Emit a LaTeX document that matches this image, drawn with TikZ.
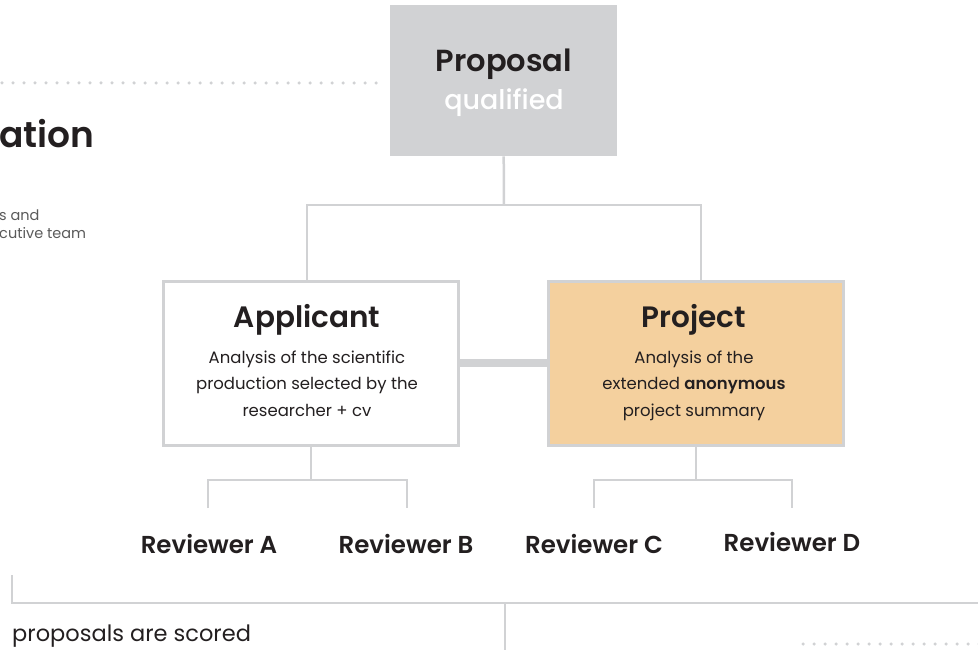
\documentclass[tikz,border=0pt]{standalone}
\usepackage{fontspec}
\setmainfont{Poppins}[BoldFont={Poppins SemiBold}]
\newfontfamily\medfont{Poppins Medium}
\definecolor{lgrey}{HTML}{D1D2D4}
\definecolor{peach}{HTML}{F4D09E}
\definecolor{ink}{HTML}{231F20}
\definecolor{mgrey}{HTML}{5A5A5A}
\begin{document}
\begin{tikzpicture}[x=1pt,y=-1pt,
  conn/.style={draw=lgrey,line width=2.5pt},
  dotline/.style={draw=lgrey,line width=3.5pt,line cap=round,dash pattern=on 0pt off 11pt},
  boxst/.style={draw=lgrey,line width=3pt,minimum width=295pt,minimum height=164pt,anchor=north west,inner sep=0pt},
  ttl/.style={font=\fontsize{29.5}{32}\selectfont\bfseries,text=ink},
  bodyt/.style={font=\fontsize{16.5}{26.5}\selectfont,text=ink,align=center},
  rev/.style={font=\fontsize{24.5}{26}\selectfont\bfseries,text=ink}]
\useasboundingbox (0,0) rectangle (978,650);
% top dotted
\coordinate (d1a) at (2,83);
\coordinate (d1b) at (377,83);
\draw[dotline] (d1a) -- (d1b);
\node[anchor=base west,inner sep=0pt,font=\fontsize{36}{40}\selectfont\bfseries,text=ink] (ation) at (-1,148) {ation};
\node[anchor=base west,inner sep=0pt,font=\fontsize{14.5}{17}\selectfont,text=mgrey] (sand) at (-1,220) {s and};
\node[anchor=base west,inner sep=0pt,font=\fontsize{14.5}{17}\selectfont,text=mgrey] (cutive) at (-1,239) {cutive team};
% proposal
\node[fill=lgrey,minimum width=227pt,minimum height=151pt,anchor=north west,inner sep=0pt] (prop) at (390,5) {};
\node[anchor=base,inner sep=0pt,font=\fontsize{30.5}{34}\selectfont\bfseries,text=ink] (propt) at (504,72) {Proposal};
\node[anchor=base,inner sep=0pt,font=\fontsize{27}{30}\medfont,text=white] (qual) at (504,110) {qualified};
% boxes
\node[boxst,fill=white] (app) at (162,280) {};
\node[boxst,fill=peach] (proj) at (547,280) {};
\coordinate (hl) at (307,205);
\coordinate (hr) at (701,205);
\coordinate (hm) at (504,205);
\draw[conn] (prop.south) -- (hm);
\draw[conn] (app.north -| hl) -- (hl) -- (hr) -- (app.north -| hr);
\draw[lgrey,line width=8pt] (app.east |- 0,363) -- (proj.west |- 0,363);
\node[boxst,fill=white] at (162,280) {};
\node[boxst,fill=peach] at (547,280) {};
% texts in boxes
\node[ttl,anchor=base] (appt) at (307,327) {Applicant};
\node[bodyt,anchor=base] (appb) at (307,416) {Analysis of the scientific\\production selected by the\\researcher + cv};
\node[ttl,anchor=base] (projt) at (694,327) {Project};
\node[bodyt,anchor=base] (projb) at (694,416) {Analysis of the\\extended \textbf{anonymous}\\project summary};
% reviewer trees
\coordinate (la) at (208,480); \coordinate (lb) at (407,480);
\coordinate (lc) at (594,480); \coordinate (ld) at (792,480);
\draw[conn] (app.south) -- (app.south |- la);
\draw[conn] (208,508) -- (la) -- (lb) -- (407,508);
\draw[conn] (proj.south) -- (proj.south |- lc);
\draw[conn] (594,508) -- (lc) -- (ld) -- (792,508);
\node[rev,anchor=base] (ra) at (209,553) {Reviewer A};
\node[rev,anchor=base] (rb) at (406,553) {Reviewer B};
\node[rev,anchor=base] (rc) at (594,553) {Reviewer C};
\node[rev,anchor=base] (rd) at (792,551) {Reviewer D};
% bottom bracket
\coordinate (b0) at (12,575); \coordinate (b1) at (12,603);
\coordinate (b2) at (980,603); \coordinate (bm) at (505,603); \coordinate (bm2) at (505,652);
\draw[conn] (b0) -- (b1) -- (b2);
\draw[conn] (bm) -- (bm2);
\node[anchor=base west,inner sep=0pt,font=\fontsize{22.5}{26}\selectfont,text=ink] (scored) at (12,641) {proposals are scored};
\coordinate (d2a) at (803,644); \coordinate (d2b) at (980,644);
\draw[dotline] (d2a) -- (d2b);
\end{tikzpicture}
\end{document}
